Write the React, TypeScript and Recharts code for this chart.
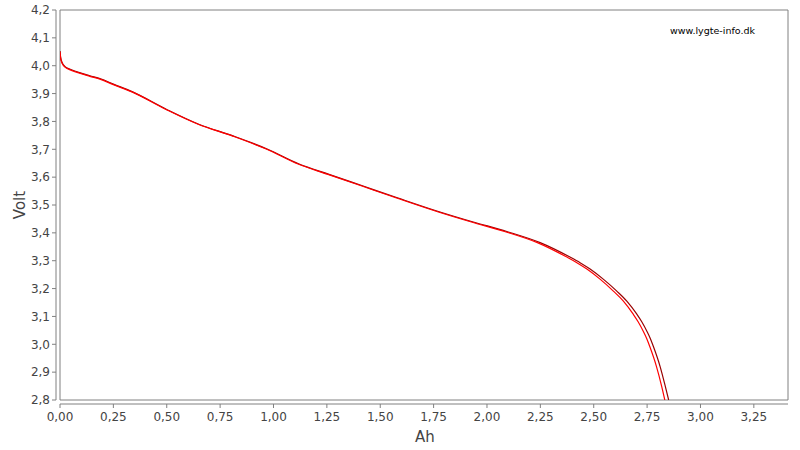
import React from 'react';
import { LineChart, Line, XAxis, YAxis, ReferenceArea } from 'recharts';

const darkAh = [0, 0.003, 0.008, 0.015, 0.025, 0.045, 0.08, 0.14, 0.19, 0.25, 0.34, 0.5, 0.65, 0.81, 0.97, 1.12, 1.26, 1.42, 1.58, 1.78, 1.936, 2.093, 2.249, 2.389, 2.436, 2.483, 2.546, 2.608, 2.655, 2.702, 2.725, 2.749, 2.765, 2.78, 2.811, 2.835, 2.851];
const darkVolt = [4.053, 4.03, 4.015, 4.004, 3.996, 3.988, 3.978, 3.964, 3.953, 3.934, 3.906, 3.843, 3.79, 3.748, 3.701, 3.647, 3.61, 3.568, 3.526, 3.475, 3.439, 3.405, 3.365, 3.313, 3.293, 3.27, 3.233, 3.191, 3.155, 3.108, 3.081, 3.047, 3.021, 2.991, 2.92, 2.85, 2.8];

const redAh = [0, 0.003, 0.008, 0.015, 0.025, 0.045, 0.08, 0.14, 0.19, 0.25, 0.337, 0.497, 0.647, 0.807, 0.966, 1.115, 1.255, 1.414, 1.573, 1.772, 1.927, 2.082, 2.236, 2.374, 2.421, 2.468, 2.531, 2.592, 2.639, 2.685, 2.708, 2.732, 2.748, 2.763, 2.794, 2.818, 2.833];
const redVolt = [4.05, 4.027, 4.012, 4.002, 3.994, 3.986, 3.976, 3.962, 3.951, 3.932, 3.906, 3.843, 3.79, 3.748, 3.701, 3.647, 3.61, 3.568, 3.526, 3.475, 3.439, 3.405, 3.365, 3.313, 3.293, 3.27, 3.233, 3.191, 3.155, 3.108, 3.081, 3.047, 3.021, 2.991, 2.92, 2.85, 2.8];

const xTicks = [0, 0.25, 0.5, 0.75, 1, 1.25, 1.5, 1.75, 2, 2.25, 2.5, 2.75, 3, 3.25];
const yTicks = [2.8, 2.9, 3.0, 3.1, 3.2, 3.3, 3.4, 3.5, 3.6, 3.7, 3.8, 3.9, 4.0, 4.1, 4.2];

const darkData = darkAh.map((x, i) => ({ x, v: darkVolt[i] }));
const redData = redAh.map((x, i) => ({ x, v: redVolt[i] }));

const fmtX = (v: number) => v.toFixed(2).replace('.', ',');
const fmtY = (v: number) => v.toFixed(1).replace('.', ',');

const FONT = '"DejaVu Sans", sans-serif';
const GRAY = '#808080';
const TEXT = '#444444';

export default function App() {
  return (
    <div style={{ position: 'fixed', left: 0, top: 0, width: 800, height: 450, background: '#fff' }}>
      <LineChart
        width={800}
        height={450}
        margin={{ top: 10, right: 12, left: 0, bottom: 0 }}
        style={{ fontFamily: FONT }}
      >
        <ReferenceArea x1={0} x2={3.41} y1={2.8} y2={4.2} fill="none" stroke={GRAY} strokeWidth={1} />
        <XAxis
          type="number"
          dataKey="x"
          domain={[0, 3.41]}
          ticks={xTicks}
          tickFormatter={fmtX}
          allowDataOverflow
          height={50}
          tickSize={4}
          tickMargin={8}
          axisLine={{ stroke: GRAY, transform: 'translate(0,4)' }}
          tickLine={{ stroke: GRAY, transform: 'translate(0,4)' }}
          tick={{ fill: TEXT, fontSize: 12, fontFamily: FONT }}
          label={{
            content: () => (
              <text x={425} y={442} textAnchor="middle" fill={TEXT} fontSize={15} fontFamily={FONT}>
                Ah
              </text>
            ),
          }}
        />
        <YAxis
          type="number"
          dataKey="v"
          domain={[2.8, 4.2]}
          ticks={yTicks}
          tickFormatter={fmtY}
          allowDataOverflow
          width={60}
          tickSize={4}
          tickMargin={6}
          axisLine={{ stroke: GRAY, transform: 'translate(-4,0)' }}
          tickLine={{ stroke: GRAY, transform: 'translate(-4,0)' }}
          tick={{ fill: TEXT, fontSize: 12, fontFamily: FONT }}
          label={{
            content: () => (
              <text
                x={25}
                y={205}
                textAnchor="middle"
                fill={TEXT}
                fontSize={15}
                fontFamily={FONT}
                transform="rotate(-90, 25, 205)"
              >
                Volt
              </text>
            ),
          }}
        />
        <Line
          data={darkData}
          dataKey="v"
          type="monotone"
          stroke="#990000"
          strokeWidth={1.2}
          dot={false}
          isAnimationActive={false}
        />
        <Line
          data={redData}
          dataKey="v"
          type="monotone"
          stroke="#ff0000"
          strokeWidth={1.2}
          dot={false}
          isAnimationActive={false}
        />
      </LineChart>
      <div
        style={{
          position: 'absolute',
          left: 670,
          top: 25,
          fontFamily: FONT,
          fontSize: 9.5,
          color: '#000',
          whiteSpace: 'nowrap',
        }}
      >
        www.lygte-info.dk
      </div>
    </div>
  );
}
